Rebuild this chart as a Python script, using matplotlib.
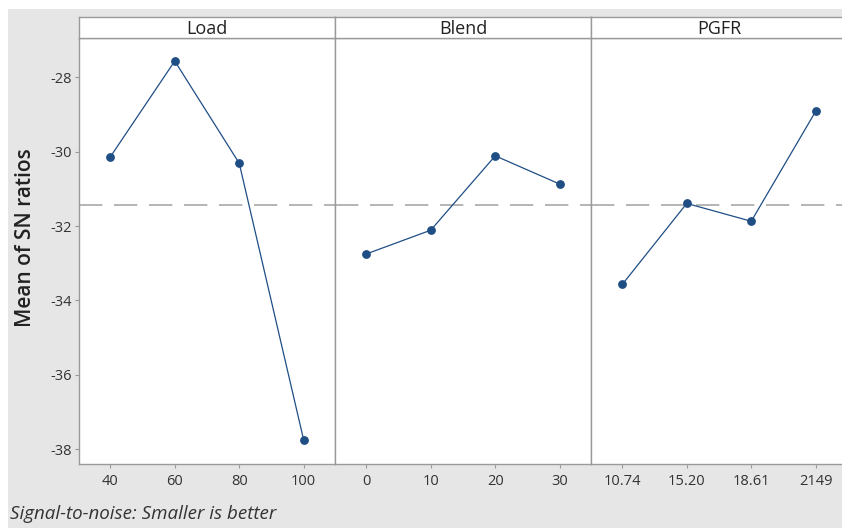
import matplotlib
matplotlib.use("Agg")
import matplotlib.pyplot as plt
from matplotlib.patches import Rectangle
import numpy as np

plt.rcParams["font.family"] = ["Open Sans", "DejaVu Sans"]
plt.rcParams["axes.unicode_minus"] = False

# factor levels and mean S/N ratios
factors = ["Load", "Blend", "PGFR"]
load_levels = ["40", "60", "80", "100"]
blend_levels = ["0", "10", "20", "30"]
pgfr_levels = ["10.74", "15.20", "18.61", "2149"]
load_sn = [-30.14, -27.56, -30.31, -37.76]
blend_sn = [-32.75, -32.11, -30.11, -30.87]
pgfr_sn = [-33.57, -31.39, -31.87, -28.91]

levels = [load_levels, blend_levels, pgfr_levels]
values = [load_sn, blend_sn, pgfr_sn]
grand_mean = np.mean(load_sn + blend_sn + pgfr_sn)

W, H = 842, 528
fig = plt.figure(figsize=(W / 100, H / 100), dpi=100)
fig.patch.set_facecolor("white")
fig.patches.append(Rectangle((8 / W, 0), 1, 1 - 9 / H, transform=fig.transFigure,
                             facecolor="#E6E6E6", edgecolor="none", zorder=-10))

BLUE = "#1F4E85"
EDGE = "#9A9A9A"
TXT = "#333333"

left0, pw = 79, 256
plot_top, plot_bot, head_top = 38, 464, 17

for i, (name, lv, vals) in enumerate(zip(factors, levels, values)):
    x0 = left0 + i * pw
    ax = fig.add_axes([x0 / W, 1 - plot_bot / H, pw / W, (plot_bot - plot_top) / H])
    ax.set_facecolor("white")
    x = np.arange(1, len(lv) + 1)
    ax.plot(x, vals, color=BLUE, lw=0.9, marker="o", ms=5.3, mfc=BLUE, mec=BLUE, zorder=3)
    ax.axhline(grand_mean, color="#A8A8A8", lw=1.2, dashes=(14, 7), zorder=2)
    ax.set_xlim(0.515, 4.485)
    ax.set_ylim(-38.40, -26.94)
    ax.set_xticks(x)
    ax.set_xticklabels(lv)
    for s in ax.spines.values():
        s.set_color(EDGE)
        s.set_linewidth(1.0)
    ax.tick_params(axis="x", length=3, width=0.8, color=EDGE, labelsize=10.5,
                   labelcolor=TXT, pad=4)
    if i == 0:
        ax.set_yticks(np.arange(-38, -27, 2))
        ax.tick_params(axis="y", length=3, width=0.8, color=EDGE, labelsize=10.5,
                       labelcolor=TXT, pad=2)
    else:
        ax.tick_params(axis="y", left=False, labelleft=False)

    hax = fig.add_axes([x0 / W, 1 - plot_top / H, pw / W, (plot_top - head_top) / H])
    hax.set_facecolor("white")
    hax.set_xticks([])
    hax.set_yticks([])
    for s in hax.spines.values():
        s.set_color(EDGE)
        s.set_linewidth(1.0)
    hax.text(0.5, 0.45, name, ha="center", va="center", fontsize=13, color="#222222",
             transform=hax.transAxes)

fig.text(26 / W, 1 - 238 / H, "Mean of SN ratios", rotation=90, ha="center", va="center",
         fontsize=15, fontweight="semibold", color="#222222")
fig.text(10 / W, 1 - 514 / H, "Signal-to-noise: Smaller is better", ha="left", va="center",
         fontsize=13.5, fontstyle="italic", color="#333333")

fig.savefig("out.png", dpi=100)
